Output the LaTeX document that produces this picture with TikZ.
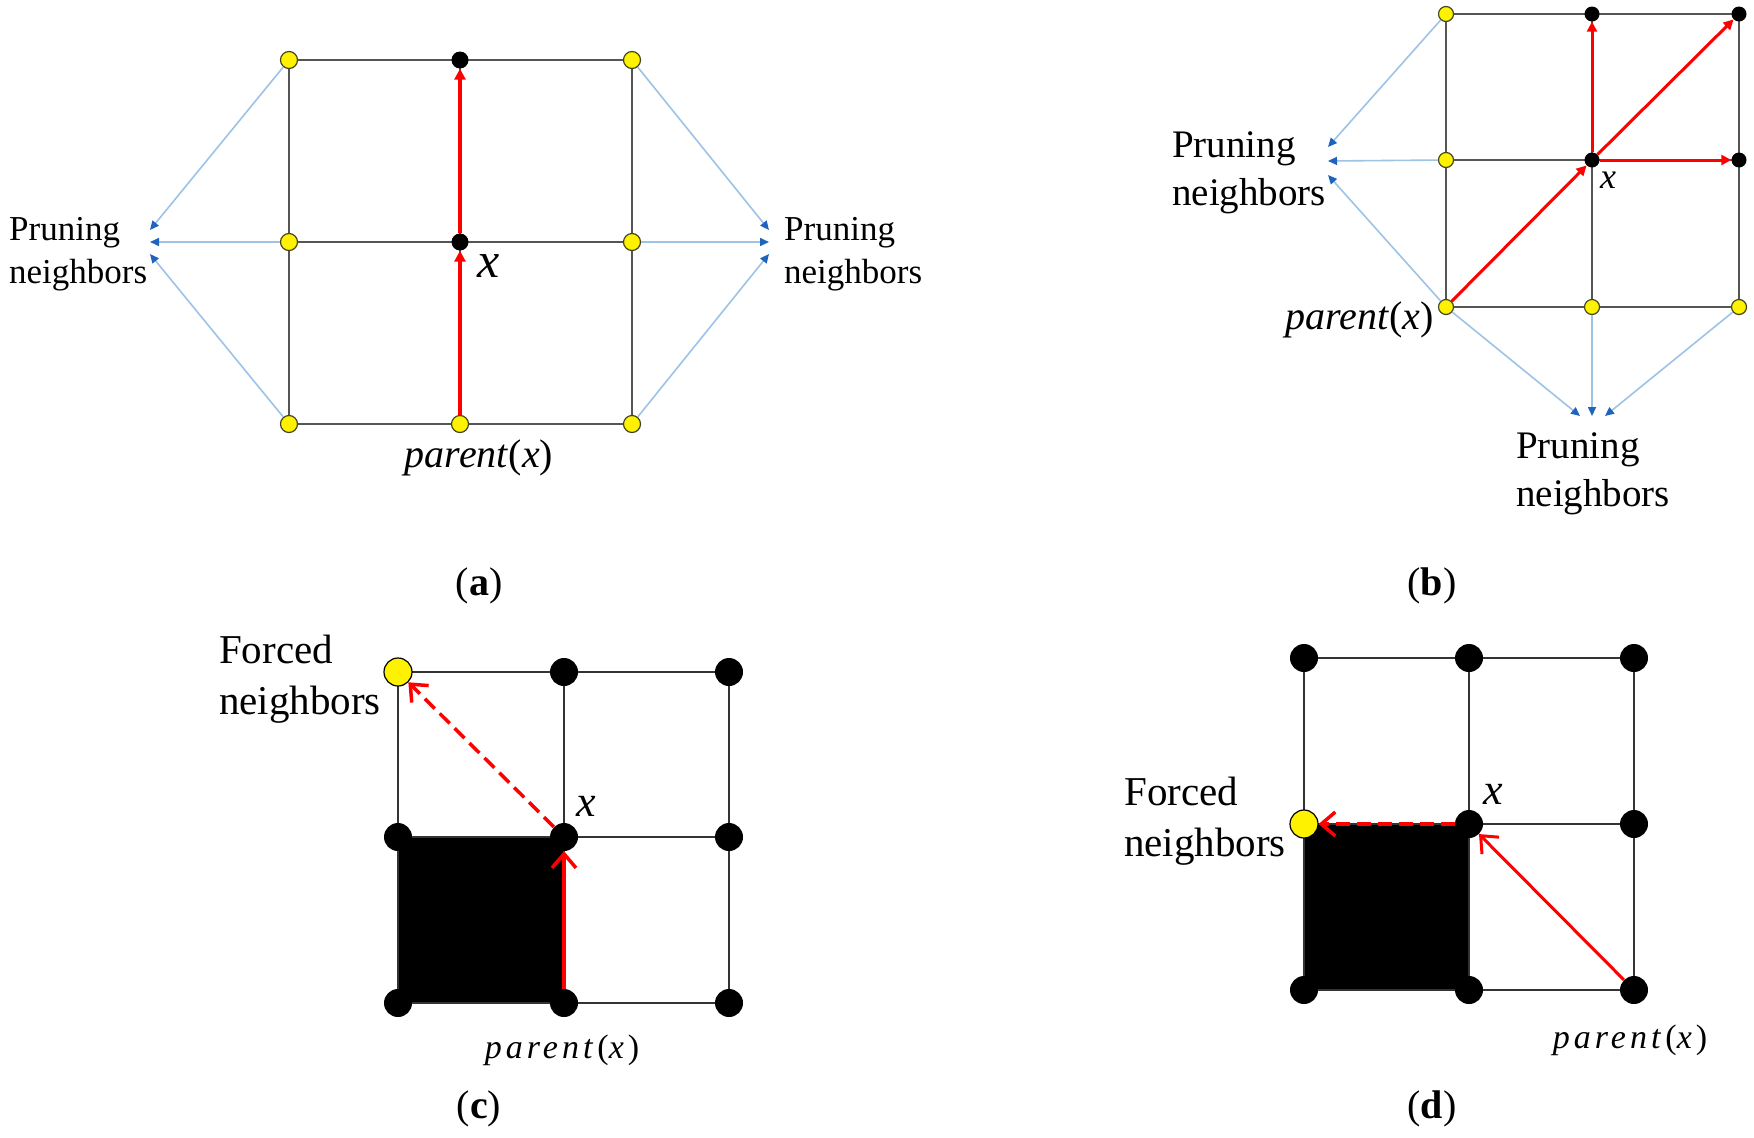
\documentclass[tikz,border=0pt]{standalone}
\usepackage{fontspec}
\setmainfont{Liberation Serif}
\newfontfamily\spacedfont[LetterSpace=12]{Liberation Serif}
\usetikzlibrary{arrows.meta,backgrounds}
\definecolor{lblue}{RGB}{157,195,230}
\definecolor{dblue}{RGB}{30,100,190}
\definecolor{gridgray}{RGB}{85,85,85}
\definecolor{dotedge}{RGB}{70,70,30}
\begin{document}
\begin{tikzpicture}[x=1pt,y=-1pt,
  yA/.style={circle,fill=yellow,draw=dotedge,line width=1.2pt,inner sep=0pt,minimum size=17pt},
  bA/.style={circle,fill=black,inner sep=0pt,minimum size=17pt},
  yB/.style={circle,fill=yellow,draw=dotedge,line width=1.2pt,inner sep=0pt,minimum size=15pt},
  bB/.style={circle,fill=black,inner sep=0pt,minimum size=15pt},
  yC/.style={circle,fill=yellow,draw=black,line width=1.2pt,inner sep=0pt,minimum size=28pt},
  bC/.style={circle,fill=black,inner sep=0pt,minimum size=28pt},
  gridAB/.style={draw=gridgray,line width=2.5pt},
  gridCD/.style={draw=black!80,line width=2pt},
  blueArr/.style={draw=lblue,line width=1.6pt,-{Triangle[length=9pt,width=8pt,color=dblue]}},
  redA/.style={draw=red,line width=4pt,-{Triangle[length=11pt,width=11pt]}},
  redB/.style={draw=red,line width=3pt,-{Triangle[length=10pt,width=10pt]}},
  redOpen/.style={draw=red,line width=3.5pt,-{Straight Barb[length=14pt,width=24pt]}},
  redDash/.style={redOpen,dash pattern=on 14pt off 7pt},
  prune/.style={align=left,inner sep=0pt,anchor=west},
  lbl/.style={inner sep=0pt,font={\fontsize{40}{40}\selectfont}}
]
\useasboundingbox (0,0) rectangle (1754,1138);
\begin{scope}[on background layer]
\fill[white] (0,0) rectangle (1754,1138);
\end{scope}

% ---------------- panel (a)
\foreach \n/\x/\y/\s in {a00/289/60/yA,a01/460/60/bA,a02/632/60/yA,
  a10/289/242/yA,a11/460/242/bA,a12/632/242/yA,
  a20/289/424/yA,a21/460/424/yA,a22/632/424/yA}
  \node[\s] (\n) at (\x,\y) {};
\begin{scope}[on background layer]
\draw[gridAB] (a00.center) -- (a02.center) (a10.center) -- (a12.center) (a20.center) -- (a22.center)
  (a00.center) -- (a20.center) (a01.center) -- (a21.center) (a02.center) -- (a22.center);
\end{scope}
\coordinate (aL1) at (150,230);
\coordinate (aL2) at (150,242);
\coordinate (aL3) at (150,254);
\coordinate (aR1) at (769,230);
\coordinate (aR2) at (769,242);
\coordinate (aR3) at (769,254);
\draw[blueArr] (a00) -- (aL1);
\draw[blueArr] (a10) -- (aL2);
\draw[blueArr] (a20) -- (aL3);
\draw[blueArr] (a02) -- (aR1);
\draw[blueArr] (a12) -- (aR2);
\draw[blueArr] (a22) -- (aR3);
\draw[redA] (a21) -- (a11);
\draw[redA] (a11) -- (a01);
\node[prune,font={\fontsize{35}{43}\selectfont}] (aPL) at (9,254) {Pruning\\neighbors};
\node[prune,font={\fontsize{35}{43}\selectfont}] (aPR) at (784,254) {Pruning\\neighbors};
\node[inner sep=0pt,font={\fontsize{50}{50}\selectfont}] (aX) at (489,266) {\textit{x}};
\node[inner sep=0pt,font={\fontsize{40}{40}\selectfont}] (aP) at (479,458) {\textit{parent}(\textit{x})};
\node[lbl] (aLab) at (479,586) {(\textbf{a})};

% ---------------- panel (b)
\foreach \n/\x/\y/\s in {b00/1446/14/yB,b01/1592/14/bB,b02/1739/14/bB,
  b10/1446/160/yB,b11/1592/160/bB,b12/1739/160/bB,
  b20/1446/307/yB,b21/1592/307/yB,b22/1739/307/yB}
  \node[\s] (\n) at (\x,\y) {};
\begin{scope}[on background layer]
\draw[gridAB] (b00.center) -- (b02.center) (b10.center) -- (b12.center) (b20.center) -- (b22.center)
  (b00.center) -- (b20.center) (b01.center) -- (b21.center) (b02.center) -- (b22.center);
\end{scope}
\coordinate (bL1) at (1328,147);
\coordinate (bL2) at (1328,161);
\coordinate (bL3) at (1328,175);
\coordinate (bD1) at (1580,416);
\coordinate (bD2) at (1592,416);
\coordinate (bD3) at (1605,416);
\draw[blueArr] (b00) -- (bL1);
\draw[blueArr] (b10) -- (bL2);
\draw[blueArr] (b20) -- (bL3);
\draw[blueArr] (b20) -- (bD1);
\draw[blueArr] (b21) -- (bD2);
\draw[blueArr] (b22) -- (bD3);
\draw[redB] (b20) -- (b11);
\draw[redB] (b11) -- (b01);
\draw[redB] (b11) -- (b12);
\draw[redB] (b11) -- (b02);
\node[prune,font={\fontsize{39}{48}\selectfont}] (bPL) at (1172,173) {Pruning\\neighbors};
\node[prune,font={\fontsize{39}{48}\selectfont}] (bPD) at (1516,474) {Pruning\\neighbors};
\node[inner sep=0pt,font={\fontsize{36}{36}\selectfont}] (bX) at (1608,180) {\textit{x}};
\node[inner sep=0pt,anchor=east,font={\fontsize{40}{40}\selectfont}] (bP) at (1434,320) {\textit{parent}(\textit{x})};
\node[lbl] (bLab) at (1432,586) {(\textbf{b})};

% ---------------- panel (c)
\foreach \n/\x/\y/\s in {c00/398/672/yC,c01/564/672/bC,c02/729/672/bC,
  c10/398/837/bC,c11/564/837/bC,c12/729/837/bC,
  c20/398/1003/bC,c21/564/1003/bC,c22/729/1003/bC}
  \node[\s] (\n) at (\x,\y) {};
\begin{scope}[on background layer]
\fill[black] (c10.center) rectangle (c21.center);
\draw[gridCD] (c00.center) -- (c02.center) (c10.center) -- (c12.center) (c20.center) -- (c22.center)
  (c00.center) -- (c20.center) (c01.center) -- (c21.center) (c02.center) -- (c22.center);
\end{scope}
\draw[redOpen] (c21) -- (c11);
\draw[redDash] (c11) -- (c00);
\node[prune,font={\fontsize{41}{51}\selectfont}] (cF) at (219,679) {Forced\\neighbors};
\node[inner sep=0pt,font={\fontsize{44}{44}\selectfont}] (cX) at (586,806) {\textit{x}};
\node[inner sep=0pt,font={\fontsize{34}{34}\spacedfont}] (cP) at (562,1050) {\textit{parent}(\textit{x})};
\node[lbl] (cLab) at (479,1109) {(\textbf{c})};

% ---------------- panel (d)
\foreach \n/\x/\y/\s in {d00/1304/658/bC,d01/1469/658/bC,d02/1634/658/bC,
  d10/1304/824/yC,d11/1469/824/bC,d12/1634/824/bC,
  d20/1304/990/bC,d21/1469/990/bC,d22/1634/990/bC}
  \node[\s] (\n) at (\x,\y) {};
\begin{scope}[on background layer]
\fill[black] (d10.center) rectangle (d21.center);
\draw[gridCD] (d00.center) -- (d02.center) (d10.center) -- (d12.center) (d20.center) -- (d22.center)
  (d00.center) -- (d20.center) (d01.center) -- (d21.center) (d02.center) -- (d22.center);
\end{scope}
\draw[redOpen,line width=3pt] (d22) -- (d11);
\draw[redDash] (d11) -- (d10);
\node[prune,font={\fontsize{41}{51}\selectfont}] (dF) at (1124,821) {Forced\\neighbors};
\node[inner sep=0pt,font={\fontsize{44}{44}\selectfont}] (dX) at (1493,794) {\textit{x}};
\node[inner sep=0pt,font={\fontsize{34}{34}\spacedfont}] (dP) at (1630,1040) {\textit{parent}(\textit{x})};
\node[lbl] (dLab) at (1432,1109) {(\textbf{d})};
\end{tikzpicture}
\end{document}
